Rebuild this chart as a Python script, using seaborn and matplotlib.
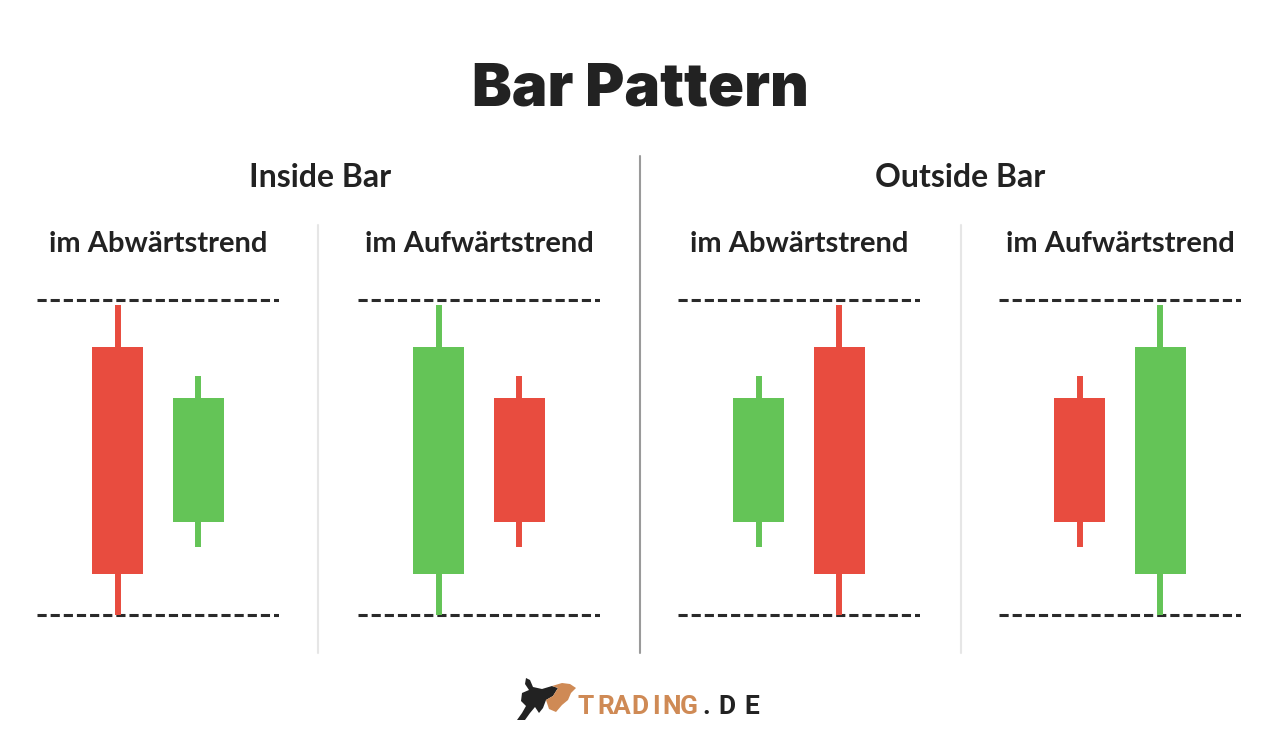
import numpy as np
import matplotlib
matplotlib.use("Agg")
import matplotlib.pyplot as plt
import seaborn as sns
from matplotlib.patches import Polygon

sns.set_theme(style="white")
plt.rcParams["font.family"] = ["Lato", "DejaVu Sans"]

# -----------------------------
# DATA (price units, 0 = lower dashed line, 100 = upper dashed line)
# -----------------------------
title = "Bar Pattern"
group_titles = ["Inside Bar", "Outside Bar"]
panel_titles = ["im Abwärtstrend", "im Aufwärtstrend", "im Abwärtstrend", "im Aufwärtstrend"]

# two candles per panel: [left candle, right candle]
highs = [[98.4, 76.0], [98.4, 76.0], [76.0, 98.4], [76.0, 98.4]]
lows = [[0.0, 21.6], [0.0, 21.6], [21.6, 0.0], [21.6, 0.0]]
opens = [[85.1, 29.5], [13.0, 69.0], [29.5, 85.1], [69.0, 13.0]]
closes = [[13.0, 69.0], [85.1, 29.5], [69.0, 13.0], [29.5, 85.1]]
range_top = 100
range_bottom = 0

RED = "#E84C3F"
GREEN = "#64C457"
DARK = "#222222"
ORANGE = "#CF8A55"

W, H = 1280, 750
fig = plt.figure(figsize=(12.8, 7.5), dpi=100)
fig.patch.set_facecolor("white")

# overlay axes in pixel coordinates for text and separators
ov = fig.add_axes([0, 0, 1, 1])
ov.set_xlim(0, W)
ov.set_ylim(H, 0)
ov.axis("off")

ov.text(640, 105, title, ha="center", va="baseline", fontsize=43,
        fontweight="black", color=DARK, family=["Inter", "DejaVu Sans"])
for cx, t in zip([320, 960], group_titles):
    ov.text(cx, 187, t, ha="center", va="baseline", fontsize=23,
            fontweight="bold", color=DARK)

panel_x0 = [37, 358, 678, 999]
panel_w = 242
for x0, t in zip(panel_x0, panel_titles):
    ov.text(x0 + panel_w / 2, 252, t, ha="center", va="baseline",
            fontsize=21, fontweight="bold", color=DARK)

# separators
ov.plot([318, 318], [225, 653], color="#E6E6E6", lw=1.5)
ov.plot([961, 961], [225, 653], color="#E6E6E6", lw=1.5)
ov.plot([640, 640], [156, 653], color="#9A9A9A", lw=1.5)

# -----------------------------
# CANDLE PANELS
# -----------------------------
y_top_px, y_bot_px = 300, 615
px_per_unit = (y_bot_px - y_top_px) / (range_top - range_bottom)
pad = 4
for i, x0 in enumerate(panel_x0):
    top = y_top_px - pad * px_per_unit
    bot = y_bot_px + pad * px_per_unit
    ax = fig.add_axes([x0 / W, 1 - bot / H, panel_w / W, (bot - top) / H])
    ax.set_xlim(0, 3)
    ax.set_ylim(range_bottom - pad, range_top + pad)
    ax.axis("off")

    for lvl in [range_top, range_bottom]:
        ax.axhline(lvl, color="#2a2a2a", lw=2.2, linestyle=(0, (3.0, 1.3)),
                   dash_capstyle="butt", zorder=1)

    for j in range(2):
        x = j + 1
        o, c = opens[i][j], closes[i][j]
        col = GREEN if c > o else RED
        ax.vlines(x, lows[i][j], highs[i][j], color=col, lw=4.3, zorder=2)
        ax.bar(x, abs(c - o), bottom=min(o, c), width=0.625, color=col,
               edgecolor="none", zorder=3)

# -----------------------------
# LOGO
# -----------------------------
bull_dark = [(517, 720), (522, 713), (526, 706), (521, 701), (522, 693), (529, 690),
             (525, 684), (526, 678), (530, 680), (533, 687), (542, 689), (552, 686),
             (558, 688), (553, 696), (546, 700), (543, 708), (539, 713), (535, 707),
             (530, 713), (525, 720)]
bull_orange = [(552, 686), (562, 683), (570, 684), (576, 688), (571, 693), (568, 700),
               (562, 705), (556, 712), (549, 709), (546, 700), (553, 696), (558, 688)]
ov.add_patch(Polygon(bull_dark, closed=True, color=DARK, lw=0))
ov.add_patch(Polygon(bull_orange, closed=True, color=ORANGE, lw=0))

logo = "TRADING.DE"
logo_x = [586, 606, 622, 640, 656, 672, 689, 706, 727, 752]
for k, (ch, lx) in enumerate(zip(logo, logo_x)):
    ov.text(lx, 714, ch, ha="center", va="baseline", fontsize=19,
            fontweight="bold", color=ORANGE if k < 7 else DARK,
            family=["Roboto", "DejaVu Sans"], fontstretch="condensed")

fig.savefig("out.png", dpi=100, facecolor="white")
